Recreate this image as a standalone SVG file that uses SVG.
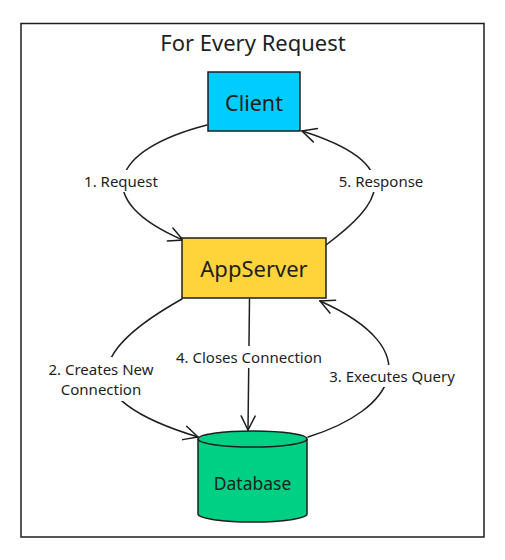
<svg xmlns="http://www.w3.org/2000/svg" width="505" height="560" viewBox="0 0 505 560">
<defs>
<style>
text{font-family:"Noto Sans","Open Sans",sans-serif;fill:#1e1e1e;text-anchor:middle;dominant-baseline:central}
.node{stroke:#1e1e1e;stroke-width:1.5}
.conn{fill:none;stroke:#1e1e1e;stroke-width:1.5;stroke-linecap:round}
.lbl{font-size:15px}
.bg{fill:#ffffff}
</style>
<marker id="arr" markerWidth="16" markerHeight="16" refX="15" refY="8" orient="auto" markerUnits="userSpaceOnUse">
<path d="M1,1 L15,8 L1,15" fill="none" stroke="#1e1e1e" stroke-width="1.5" stroke-linecap="round"/>
</marker>
</defs>
<rect width="505" height="560" fill="#ffffff"/>
<g id="frame">
<rect x="21" y="23.5" width="463" height="513.5" fill="none" stroke="#1e1e1e" stroke-width="1.5"/>
<text x="253" y="42" style="font-size:22px">For Every Request</text>
</g>
<g id="connectors">
<path class="conn" d="M207,125 C110,150 90,200 183,240" marker-end="url(#arr)"/>
<path class="conn" d="M326,245 C380,205 410,165 302,131" marker-end="url(#arr)"/>
<path class="conn" d="M182,299 C100,345 60,395 198,437" marker-end="url(#arr)"/>
<path class="conn" d="M249.5,299 L248,430" marker-end="url(#arr)"/>
<path class="conn" d="M308,437 C395,410 430,350 320,301" marker-end="url(#arr)"/>
<rect class="bg" x="78" y="170" width="86" height="22"/>
<text class="lbl" x="121" y="181">1. Request</text>
<rect class="bg" x="330" y="170" width="102" height="22"/>
<text class="lbl" x="381" y="181">5. Response</text>
<rect class="bg" x="42" y="357" width="118" height="44"/>
<text class="lbl" x="101" y="369">2. Creates New</text>
<text class="lbl" x="101" y="389">Connection</text>
<rect class="bg" x="171" y="346" width="156" height="22"/>
<text class="lbl" x="249" y="357">4. Closes Connection</text>
<rect class="bg" x="325" y="365" width="134" height="22"/>
<text class="lbl" x="392" y="376">3. Executes Query</text>
</g>
<g id="client">
<rect class="node" x="208" y="72" width="92" height="59" fill="#00ccff"/>
<text x="254" y="102" style="font-size:21.5px">Client</text>
</g>
<g id="appserver">
<rect class="node" x="182" y="238" width="144" height="60" fill="#ffd43b"/>
<text x="254" y="268" style="font-size:22px">AppServer</text>
</g>
<g id="database">
<path class="node" d="M198,439 L198,514 A54.5,8 0 0 0 307,514 L307,439" fill="#00d084"/>
<ellipse class="node" cx="252.5" cy="439" rx="54.5" ry="8" fill="#00d084"/>
<text x="252.5" y="483" style="font-size:17.5px">Database</text>
</g>
</svg>
